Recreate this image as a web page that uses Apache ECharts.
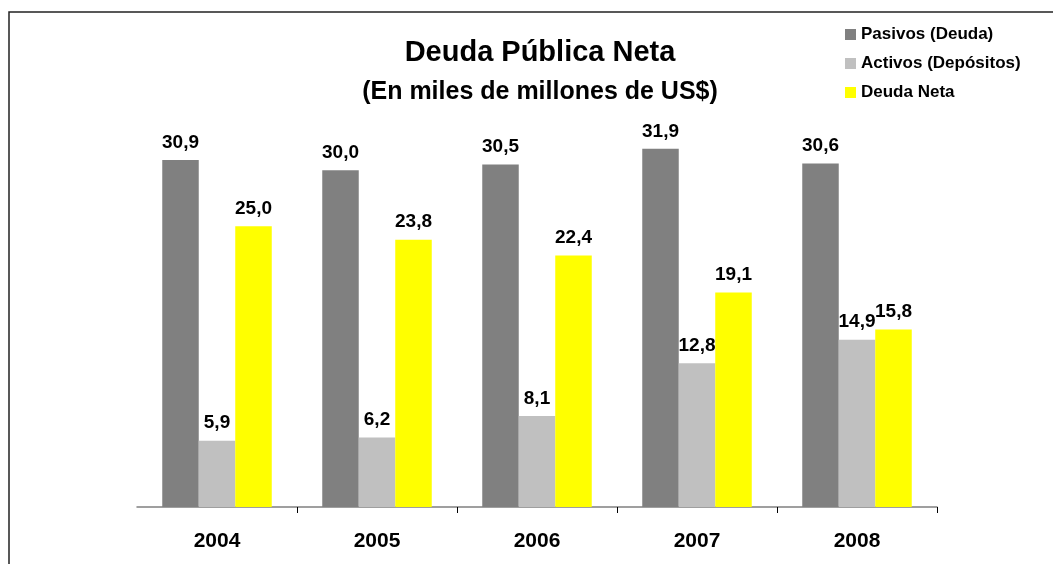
<!DOCTYPE html>
<html>
<head>
<meta charset="utf-8">
<script src="https://cdn.jsdelivr.net/npm/echarts@6/dist/echarts.min.js"></script>
<style>
  html, body { margin: 0; padding: 0; background: #fff; }
  #chart { width: 1053px; height: 564px; }
</style>
</head>
<body>
<div id="chart"></div>
<script>
const years = ['2004', '2005', '2006', '2007', '2008'];
const pasivos = [30.9, 30.0, 30.5, 31.9, 30.6];
const activos = [5.9, 6.2, 8.1, 12.8, 14.9];
const deudaNeta = [25.0, 23.8, 22.4, 19.1, 15.8];

const font = '"Liberation Sans", Arial, sans-serif';
const chart = echarts.init(document.getElementById('chart'), null, { renderer: 'canvas' });

const fmt = (p) => p.value.toFixed(1).replace('.', ',');

const barLabel = {
  show: true,
  position: 'top',
  distance: 8,
  formatter: fmt,
  color: '#000',
  fontFamily: font,
  fontWeight: 'bold',
  fontSize: 19
};

const makeSeries = (name, data, color) => ({
  name: name,
  type: 'bar',
  data: data,
  barWidth: 36.5,
  barGap: '0%',
  itemStyle: { color: color },
  label: barLabel,
  animation: false
});

const option = {
  backgroundColor: '#fff',
  animation: false,
  title: {
    text: 'Deuda Pública Neta',
    subtext: '(En miles de millones de US$)',
    left: 535,
    textAlign: 'center',
    top: 33,
    itemGap: 13,
    textStyle: { fontFamily: font, fontWeight: 'bold', fontSize: 29, color: '#000' },
    subtextStyle: { fontFamily: font, fontWeight: 'bold', fontSize: 25, color: '#000' }
  },
  legend: {
    orient: 'vertical',
    left: 840,
    top: 21,
    itemWidth: 11,
    itemHeight: 11,
    itemGap: 12,
    icon: 'rect',
    textStyle: { fontFamily: font, fontWeight: 'bold', fontSize: 17, color: '#000' },
    data: ['Pasivos (Deuda)', 'Activos (Depósitos)', 'Deuda Neta']
  },
  grid: { left: 137, right: 116, top: 114, bottom: 57 },
  xAxis: {
    type: 'category',
    data: years,
    axisLine: { lineStyle: { color: '#808080', width: 1.5 } },
    axisTick: {
      show: true,
      length: 6,
      interval: function (i) { return i > 0; },
      lineStyle: { color: '#000', width: 1 }
    },
    axisLabel: {
      margin: 24,
      fontFamily: font,
      fontWeight: 'bold',
      fontSize: 21,
      color: '#000'
    }
  },
  yAxis: {
    type: 'value',
    min: 0,
    max: 35,
    show: false
  },
  series: [
    makeSeries('Pasivos (Deuda)', pasivos, '#808080'),
    makeSeries('Activos (Depósitos)', activos, '#c0c0c0'),
    makeSeries('Deuda Neta', deudaNeta, '#ffff00')
  ],
  graphic: [
    {
      type: 'rect',
      silent: true,
      shape: { x: 9, y: 12, width: 1100, height: 600 },
      style: { fill: 'none', stroke: '#222', lineWidth: 1.5 }
    }
  ]
};

chart.setOption(option);
window.addEventListener('resize', () => chart.resize());
</script>
</body>
</html>
